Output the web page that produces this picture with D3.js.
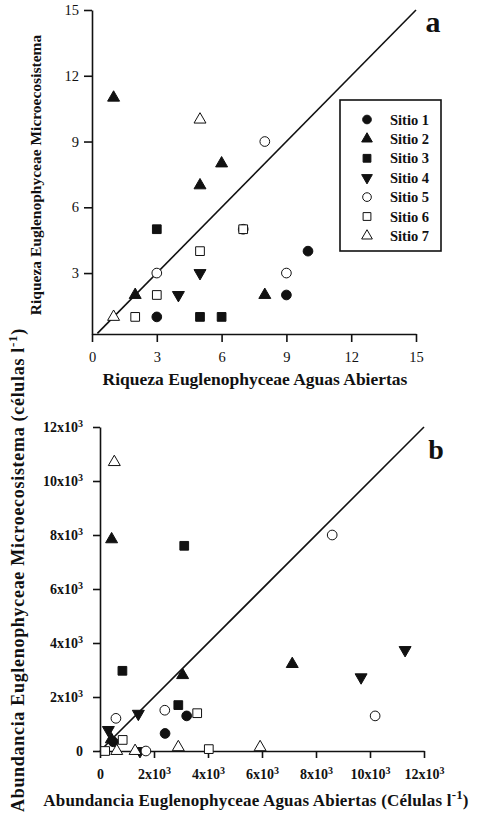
<!DOCTYPE html>
<meta charset="utf-8">
<style>
  body { margin: 0; background: #fff; }
  text { font-family: 'Liberation Serif', 'Times New Roman', serif; fill: #111; }
</style>
<body>
<div id="chart"></div>
<script src="https://d3js.org/d3.v7.min.js"></script>
<script>

// sites and their marker style
var sites = ["Sitio 1", "Sitio 2", "Sitio 3", "Sitio 4", "Sitio 5", "Sitio 6", "Sitio 7"];
var shapes = ["circle", "triangle", "square", "down", "circle", "square", "triangle"];
var filled = [true, true, true, true, false, false, false];

// panel a: richness (open waters x, microcosm y) for each site
var richA = [
  [[3, 1], [9, 2], [10, 4]],
  [[1, 11], [5, 7], [6, 8], [2, 2], [8, 2]],
  [[3, 5], [5, 1], [6, 1]],
  [[5, 3], [4, 2]],
  [[8, 9], [3, 3], [9, 3], [7, 5]],
  [[5, 4], [3, 2], [2, 1], [7, 5]],
  [[5, 10], [1, 1]]
];
var ticksA = [0, 3, 6, 9, 12, 15];

// panel b: abundance in cells per litre
var abundB = [
  [[490, 340], [2410, 650], [3210, 1300]],
  [[430, 7840], [3060, 2810], [7120, 3220], [420, 430]],
  [[3120, 7600], [830, 2970], [2900, 1700]],
  [[310, 780], [1420, 1380], [9670, 2730], [11300, 3740], [1480, 0]],
  [[8600, 8000], [10190, 1300], [590, 1210], [2400, 1510], [1700, 0]],
  [[3600, 1400], [840, 410], [4030, 70], [190, 0]],
  [[530, 10700], [2900, 140], [5930, 140], [1300, 0], [620, 0]]
];
var ticksB = [0, 2000, 4000, 6000, 8000, 10000, 12000];

var svg = d3.select("#chart").append("svg")
  .attr("width", 477)
  .attr("height", 814);

function symbolPath(shape, big) {
  var k = big ? 1 : 0.8;
  var s = d3.symbol();
  if (shape == "circle") s.type(d3.symbolCircle).size(74 * k);
  else if (shape == "square") s.type(d3.symbolSquare).size(76 * k);
  else s.type(d3.symbolTriangle).size(62 * k);
  return s();
}

function drawMarks(g, data, x, y) {
  data.forEach(function(pts, i) {
    g.selectAll(".s" + i)
      .data(pts)
      .enter()
      .append("path")
        .attr("d", symbolPath(shapes[i], true))
        .attr("transform", function(d) {
          return "translate(" + x(d[0]) + "," + y(d[1]) + ")" + (shapes[i] == "down" ? " rotate(180)" : "");
        })
        .attr("fill", filled[i] ? "#111" : "#fff")
        .attr("stroke", "#111")
        .attr("stroke-width", 1);
  });
}

function styleAxis(g) {
  g.select(".domain").attr("stroke", "#111").attr("stroke-width", 1.6);
  g.selectAll(".tick line").attr("stroke", "#111").attr("stroke-width", 1.6);
  g.selectAll(".tick text").attr("font-family", "'Liberation Serif', serif").attr("font-size", 14.5).attr("fill", "#111");
}

// ---------- panel a ----------
var xa = d3.scaleLinear().domain([0, 15]).range([92, 416]);
var ya = d3.scaleLinear().domain([0.22, 15]).range([334, 10]);

var ga = svg.append("g");
ga.append("line")
  .attr("x1", xa(0.25)).attr("y1", ya(0.25))
  .attr("x2", xa(15)).attr("y2", ya(15))
  .attr("stroke", "#111").attr("stroke-width", 1.6);

ga.append("g")
  .attr("transform", "translate(0," + ya.range()[0] + ")")
  .call(d3.axisBottom(xa).tickValues(ticksA).tickSize(8).tickSizeOuter(0).tickPadding(10))
  .call(styleAxis);
ga.append("g")
  .attr("transform", "translate(" + xa(0) + ",0)")
  .call(d3.axisLeft(ya).tickValues(ticksA.slice(1)).tickSize(8).tickSizeOuter(0).tickPadding(5))
  .call(styleAxis);

drawMarks(ga, richA, xa, ya);

ga.append("text")
  .attr("x", 255).attr("y", 385)
  .attr("text-anchor", "middle").attr("font-size", 17.5).attr("font-weight", "bold")
  .text("Riqueza Euglenophyceae Aguas Abiertas");
ga.append("text")
  .attr("transform", "translate(41,175) rotate(-90)")
  .attr("text-anchor", "middle").attr("font-size", 15.5).attr("font-weight", "bold")
  .text("Riqueza Euglenophyceae Microecosistema");
ga.append("text")
  .attr("x", 433).attr("y", 32)
  .attr("text-anchor", "middle").attr("font-size", 30).attr("font-weight", "bold")
  .text("a");

// legend
var lg = ga.append("g").attr("transform", "translate(340,100)");
lg.append("rect")
  .attr("width", 101).attr("height", 151)
  .attr("fill", "#fff").attr("stroke", "#111").attr("stroke-width", 1.6);
sites.forEach(function(s, i) {
  var yy = 19.5 + i * 19.4;
  lg.append("path")
    .attr("d", symbolPath(shapes[i], false))
    .attr("transform", "translate(27," + yy + ")" + (shapes[i] == "down" ? " rotate(180)" : ""))
    .attr("fill", filled[i] ? "#111" : "#fff")
    .attr("stroke", "#111").attr("stroke-width", 1);
  lg.append("text")
    .attr("x", 50).attr("y", yy + 5)
    .attr("font-size", 14.5).attr("font-weight", "bold")
    .text(s);
});

// ---------- panel b ----------
var xb = d3.scaleLinear().domain([0, 12000]).range([100, 424]);
var yb = d3.scaleLinear().domain([0, 12000]).range([751, 427]);

var gb = svg.append("g");
gb.append("line")
  .attr("x1", xb(0)).attr("y1", yb(0))
  .attr("x2", xb(12000)).attr("y2", yb(12000))
  .attr("stroke", "#111").attr("stroke-width", 1.6);

function sciLabels(g) {
  g.selectAll(".tick text").attr("font-weight", "bold").attr("font-size", 14).each(function(d) {
    var t = d3.select(this);
    t.text(null);
    if (d === 0) { t.text("0"); return; }
    t.append("tspan").text(d / 1000 + "x10");
    t.append("tspan").attr("dy", "-0.45em").attr("font-size", 10).text("3");
  });
}

gb.append("g")
  .attr("transform", "translate(0," + yb(0) + ")")
  .call(d3.axisBottom(xb).tickValues(ticksB).tickSize(7).tickSizeOuter(0).tickPadding(11))
  .call(styleAxis)
  .call(sciLabels);
gb.append("g")
  .attr("transform", "translate(" + xb(0) + ",0)")
  .call(d3.axisLeft(yb).tickValues(ticksB).tickSize(7).tickSizeOuter(0).tickPadding(10))
  .call(styleAxis)
  .call(sciLabels);

drawMarks(gb, abundB, xb, yb);

var tx = gb.append("text")
  .attr("x", 256).attr("y", 806)
  .attr("text-anchor", "middle").attr("font-size", 17).attr("font-weight", "bold")
  .attr("letter-spacing", 0.2);
tx.append("tspan").text("Abundancia Euglenophyceae Aguas Abiertas (Células l");
tx.append("tspan").attr("dy", -7).attr("font-size", 13).text("-1");
tx.append("tspan").attr("dy", 7).text(")");

var ty = gb.append("text")
  .attr("transform", "translate(24,570) rotate(-90)")
  .attr("text-anchor", "middle").attr("font-size", 18).attr("font-weight", "bold")
  .attr("letter-spacing", 0.7);
ty.append("tspan").text("Abundancia Euglenophyceae Microecosistema (células l");
ty.append("tspan").attr("dy", -7).attr("font-size", 13).text("-1");
ty.append("tspan").attr("dy", 7).text(")");

gb.append("text")
  .attr("x", 436).attr("y", 459)
  .attr("text-anchor", "middle").attr("font-size", 28).attr("font-weight", "bold")
  .text("b");

</script>
</body>
